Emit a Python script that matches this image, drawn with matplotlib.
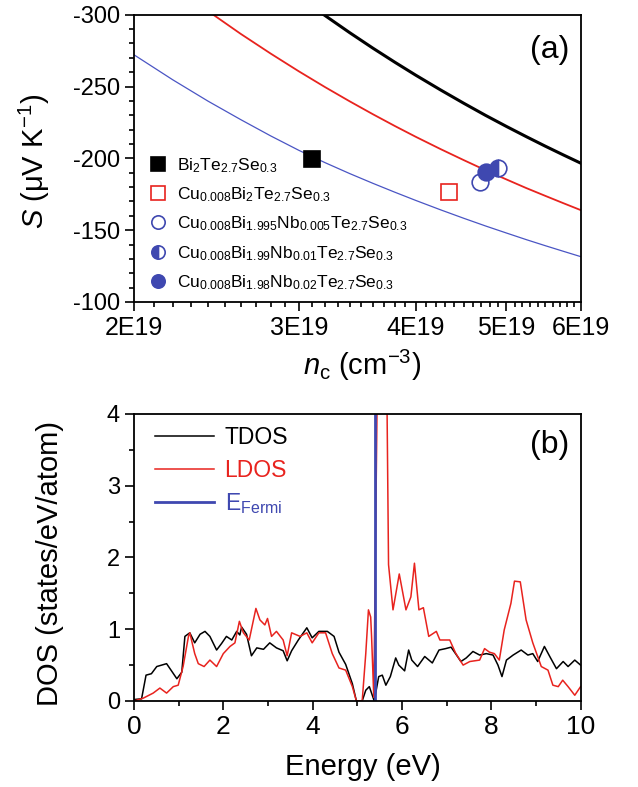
import matplotlib
matplotlib.use('Agg')
import matplotlib.pyplot as plt
from matplotlib.ticker import FixedLocator, MultipleLocator, NullFormatter

import numpy as np

plt.rcParams['font.family'] = ['Liberation Sans', 'DejaVu Sans']
plt.rcParams['mathtext.fontset'] = 'custom'
plt.rcParams['mathtext.rm'] = 'Liberation Sans'
plt.rcParams['mathtext.it'] = 'Liberation Sans:italic'
plt.rcParams['mathtext.default'] = 'regular'
plt.rcParams['axes.unicode_minus'] = False

# ---- panel (a): Seebeck vs carrier concentration (n in units of 1E19 cm^-3) ----
black_n = [3.15, 3.4, 3.6, 3.8, 4.0, 4.25, 4.5, 4.75, 5.0, 5.25, 5.5, 5.75, 6.0]
black_s = [-302.5, -287.5, -276.7, -266.9, -257.9, -247.7, -238.4, -229.9, -222.2,
           -215.1, -208.5, -202.4, -196.7]

red_n = [2.4, 2.6, 2.8, 3.0, 3.2, 3.4, 3.6, 3.8, 4.0, 4.25, 4.5, 4.75, 5.0, 5.25,
         5.5, 5.75, 6.0]
red_s = [-302.5, -286.7, -272.9, -260.6, -249.6, -239.7, -230.7, -222.5, -215.0,
         -206.5, -198.8, -191.7, -185.3, -179.3, -173.9, -168.8, -164.0]

blue_n = [2.0, 2.2, 2.4, 2.6, 2.8, 3.0, 3.2, 3.4, 3.6, 3.8, 4.0, 4.25, 4.5, 4.75,
          5.0, 5.25, 5.5, 5.75, 6.0]
blue_s = [-272.1, -254.7, -239.8, -227.0, -215.6, -205.6, -197.0, -189.4, -182.6,
          -176.4, -170.7, -164.2, -158.3, -152.9, -148.0, -143.4, -139.2, -135.3,
          -131.6]

samples = [
    r'Bi$_2$Te$_{2.7}$Se$_{0.3}$',
    r'Cu$_{0.008}$Bi$_2$Te$_{2.7}$Se$_{0.3}$',
    r'Cu$_{0.008}$Bi$_{1.995}$Nb$_{0.005}$Te$_{2.7}$Se$_{0.3}$',
    r'Cu$_{0.008}$Bi$_{1.99}$Nb$_{0.01}$Te$_{2.7}$Se$_{0.3}$',
    r'Cu$_{0.008}$Bi$_{1.98}$Nb$_{0.02}$Te$_{2.7}$Se$_{0.3}$',
]
sample_n = [3.10, 4.34, 4.69, 4.90, 4.76]
sample_s = [-199.7, -176.9, -183.2, -193.2, -190.8]

xticks_a = [2, 3, 4, 5, 6]
xlabels_a = ['2E19', '3E19', '4E19', '5E19', '6E19']

# ---- panel (b): DOS ----
tdos_e = [0, 0.17, 0.27, 0.39, 0.51, 0.73, 0.84, 0.96, 1.07, 1.14, 1.25, 1.36, 1.48,
          1.59, 1.70, 1.85, 1.96, 2.07, 2.19, 2.30, 2.37, 2.41, 2.52, 2.63, 2.75, 2.90,
          3.04, 3.19, 3.34, 3.43, 3.53, 3.68, 3.87, 3.99, 4.14, 4.33, 4.48, 4.59, 4.74,
          4.89, 4.98, 5.11, 5.19, 5.27, 5.38, 5.48, 5.56, 5.64, 5.74, 5.86, 5.93, 6.06,
          6.15, 6.22, 6.35, 6.51, 6.68, 6.83, 6.98, 7.10, 7.20, 7.32, 7.44, 7.59, 7.74,
          7.89, 8.04, 8.15, 8.24, 8.34, 8.49, 8.67, 8.82, 8.93, 9.04, 9.19, 9.31, 9.46,
          9.61, 9.72, 9.87, 10.0]
tdos_v = [0.02, 0.03, 0.36, 0.38, 0.48, 0.52, 0.42, 0.31, 0.40, 0.90, 0.95, 0.81, 0.93,
          0.97, 0.90, 0.71, 0.80, 0.90, 0.85, 0.97, 0.92, 1.03, 0.93, 0.63, 0.74, 0.72,
          0.81, 0.74, 0.70, 0.56, 0.70, 0.85, 1.02, 0.88, 0.97, 0.97, 0.90, 0.68, 0.51,
          0.24, 0.0, 0.0, 0.15, 0.20, 0.0, 0.34, 0.36, 0.22, 0.34, 0.60, 0.50, 0.42,
          0.71, 0.57, 0.48, 0.62, 0.53, 0.71, 0.73, 0.75, 0.66, 0.55, 0.60, 0.69, 0.64,
          0.66, 0.64, 0.50, 0.34, 0.57, 0.64, 0.71, 0.64, 0.66, 0.55, 0.76, 0.62, 0.45,
          0.55, 0.48, 0.57, 0.50]

ldos_e = [0, 0.21, 0.43, 0.58, 0.73, 0.88, 0.99, 1.10, 1.22, 1.25, 1.36, 1.44, 1.57,
          1.70, 1.85, 2.00, 2.15, 2.26, 2.36, 2.45, 2.58, 2.73, 2.82, 2.93, 2.99, 3.08,
          3.19, 3.34, 3.43, 3.53, 3.72, 3.87, 3.99, 4.14, 4.29, 4.44, 4.59, 4.74, 4.89,
          4.98, 5.11, 5.19, 5.25, 5.30, 5.32, 5.37, 5.45, 5.55, 5.66, 5.70, 5.80, 5.94,
          6.09, 6.20, 6.28, 6.38, 6.48, 6.60, 6.77, 6.85, 7.07, 7.20, 7.37, 7.52, 7.74,
          7.85, 7.96, 8.07, 8.18, 8.29, 8.44, 8.52, 8.65, 8.78, 8.93, 9.12, 9.27, 9.38,
          9.50, 9.60, 9.72, 9.87, 10.0]
ldos_v = [0.0, 0.04, 0.11, 0.18, 0.11, 0.20, 0.22, 0.48, 0.90, 0.95, 0.66, 0.52, 0.48,
          0.57, 0.48, 0.66, 0.76, 0.81, 1.11, 0.95, 0.85, 1.29, 1.13, 1.06, 1.15, 0.90,
          0.97, 0.85, 0.63, 0.95, 0.90, 0.95, 0.81, 0.95, 0.95, 0.66, 0.46, 0.43, 0.20,
          0.0, 0.0, 0.66, 1.27, 1.17, 0.90, 0.05, 4.5, 5.0, 4.5, 1.90, 1.27, 1.77,
          1.27, 1.45, 1.92, 1.27, 1.30, 0.90, 0.97, 0.85, 0.85, 0.67, 0.50, 0.55, 0.57,
          0.73, 0.68, 0.66, 0.57, 0.99, 1.36, 1.67, 1.66, 1.13, 0.81, 0.48, 0.43, 0.22,
          0.20, 0.29, 0.20, 0.08, 0.20]

e_fermi = 5.40

blue = '#3f48b0'
red = '#e8231e'

fig = plt.figure(figsize=(6.38, 7.87), dpi=100)

# ---------------- (a) ----------------
ax1 = fig.add_axes([0.210, 0.6163, 0.700, 0.365])
ax1.plot(np.array(black_n) * 1e19, black_s, color='black', lw=2.2, zorder=2)
ax1.plot(np.array(red_n) * 1e19, red_s, color=red, lw=1.3, zorder=2)
ax1.plot(np.array(blue_n) * 1e19, blue_s, color='#4a55c4', lw=0.9, zorder=2)

styles = [
    dict(marker='s', color='black', mfc='black', mec='black'),
    dict(marker='s', color=red, mfc='white', mec=red),
    dict(marker='o', color=blue, mfc='white', mec=blue),
    dict(marker='o', color=blue, mfc=blue, mec=blue, fillstyle='left',
         markerfacecoloralt='white'),
    dict(marker='o', color=blue, mfc=blue, mec=blue),
]
for lab, n, s, st in zip(samples, sample_n, sample_s, styles):
    ax1.plot([n * 1e19], [s], ls='none', ms=12, mew=1.2, label=lab, zorder=3, **st)

ax1.set_xscale('log')
ax1.set_xlim(2e19, 6e19)
ax1.set_ylim(-100, -300)
ax1.xaxis.set_major_locator(FixedLocator([v * 1e19 for v in xticks_a]))
ax1.set_xticklabels(xlabels_a)
ax1.xaxis.set_minor_locator(MultipleLocator(1e18))
ax1.xaxis.set_minor_formatter(NullFormatter())
ax1.yaxis.set_major_locator(MultipleLocator(50))
ax1.yaxis.set_minor_locator(MultipleLocator(10))

ax1.set_xlabel(r'$\mathit{n}_{\mathrm{c}}$ (cm$^{-3}$)', fontsize=21)
ax1.set_ylabel(r'$\it{S}$ ($\mu$V K$^{-1}$)', fontsize=21)
ax1.xaxis.set_label_coords(0.51, -0.160)
ax1.yaxis.set_label_coords(-0.184, 0.49)
ax1.text(0.975, 0.878, '(a)', transform=ax1.transAxes, ha='right', va='center',
         fontsize=23)

ax1.legend(loc='lower left', bbox_to_anchor=(0.0, -0.019), frameon=False,
           fontsize=12.5, markerscale=0.8, handlelength=1.0, handletextpad=0.6,
           labelspacing=0.61, borderpad=0.4)

# ---------------- (b) ----------------
ax2 = fig.add_axes([0.210, 0.1093, 0.700, 0.3647])
ax2.plot(tdos_e, tdos_v, color='black', lw=1.1, label='TDOS')
ax2.plot(ldos_e, ldos_v, color=red, lw=1.1, label='LDOS')
ax2.plot([e_fermi, e_fermi], [0, 4.5], color=blue, lw=2.0, label=r'E$_{\mathrm{Fermi}}$')
ax2.set_xlim(0, 10)
ax2.set_ylim(0, 4)
ax2.xaxis.set_major_locator(MultipleLocator(2))
ax2.xaxis.set_minor_locator(MultipleLocator(1))
ax2.yaxis.set_major_locator(MultipleLocator(1))
ax2.yaxis.set_minor_locator(MultipleLocator(0.5))
ax2.set_xlabel('Energy (eV)', fontsize=21)
ax2.set_ylabel('DOS (states/eV/atom)', fontsize=21)
ax2.xaxis.set_label_coords(0.512, -0.181)
ax2.yaxis.set_label_coords(-0.157, 0.48)
ax2.text(0.975, 0.892, '(b)', transform=ax2.transAxes, ha='right', va='center',
         fontsize=23)

leg2 = ax2.legend(loc='upper left', bbox_to_anchor=(0.0, 1.03), frameon=False,
                  fontsize=16.5, handlelength=2.6, handletextpad=0.45,
                  labelspacing=0.42)
for txt, c in zip(leg2.get_texts(), ['black', red, blue]):
    txt.set_color(c)

for ax in (ax1, ax2):
    for sp in ax.spines.values():
        sp.set_linewidth(1.3)
    ax.tick_params(which='both', direction='out', top=False, right=False, width=1.2)
    ax.tick_params(which='major', length=6.5)
    ax.tick_params(which='minor', length=3.8)

ax1.tick_params(axis='y', labelsize=17)
ax1.tick_params(axis='x', labelsize=18)
ax2.tick_params(axis='y', labelsize=17)
ax2.tick_params(axis='x', labelsize=19)

fig.savefig('out.png', dpi=100)
